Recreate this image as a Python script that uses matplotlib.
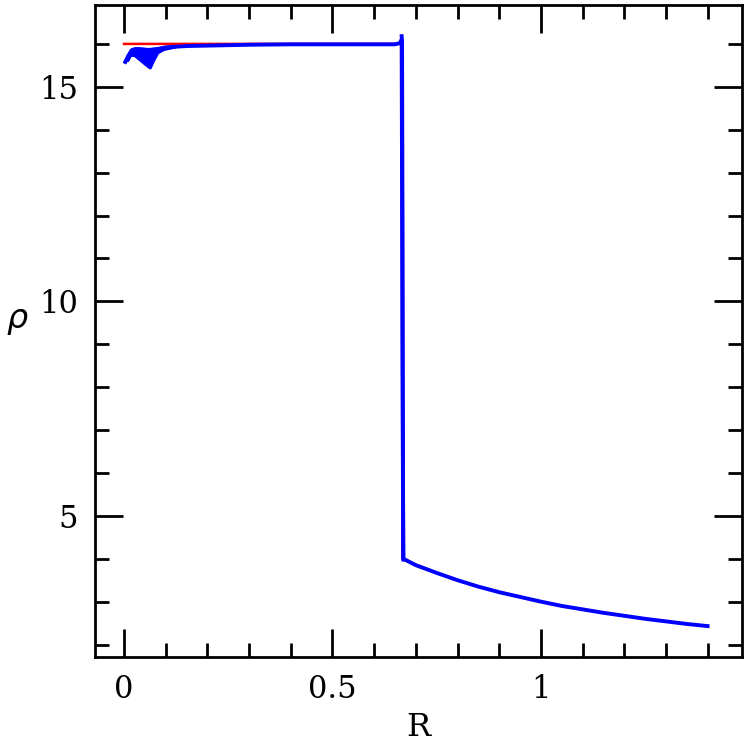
import matplotlib
matplotlib.use('Agg')
import matplotlib.pyplot as plt
from matplotlib.ticker import MultipleLocator, FixedLocator

# solucion exacta (rojo)
r_exacta = [0.0, 0.665, 0.667, 0.668, 0.70, 0.75, 0.80, 0.85, 0.90, 0.95, 1.00,
            1.05, 1.10, 1.15, 1.20, 1.25, 1.30, 1.35, 1.40]
rho_exacta = [16.0, 16.0, 16.0, 3.99, 3.86, 3.67, 3.50, 3.35, 3.22, 3.11, 3.00,
              2.90, 2.82, 2.74, 2.67, 2.60, 2.54, 2.48, 2.43]

# simulacion (azul)
r_sim = [0.003, 0.010, 0.020, 0.030, 0.045, 0.060, 0.080, 0.100, 0.150, 0.200,
         0.300, 0.400, 0.500, 0.600, 0.650, 0.662, 0.666, 0.668, 0.670, 0.680,
         0.700, 0.750, 0.800, 0.850, 0.900, 0.950, 1.000, 1.050, 1.100, 1.150,
         1.200, 1.250, 1.300, 1.350, 1.400]
rho_sim = [15.58, 15.72, 15.86, 15.88, 15.87, 15.86, 15.88, 15.92, 15.95, 15.96,
           15.98, 15.99, 15.99, 15.99, 15.99, 16.02, 16.10, 9.0, 4.00, 3.95,
           3.85, 3.67, 3.50, 3.35, 3.22, 3.11, 3.00, 2.90, 2.82, 2.74,
           2.67, 2.60, 2.54, 2.48, 2.43]

# zona con dispersion cerca del origen
r_banda = [0.008, 0.015, 0.025, 0.035, 0.045, 0.055, 0.062, 0.070, 0.080, 0.095, 0.120]
rho_banda_sup = [15.72, 15.86, 15.90, 15.90, 15.89, 15.88, 15.88, 15.89, 15.90, 15.92, 15.94]
rho_banda_inf = [15.62, 15.74, 15.74, 15.66, 15.58, 15.50, 15.45, 15.62, 15.80, 15.88, 15.93]

r_salto = [0.666, 0.667, 0.668, 0.669, 0.670]
rho_salto = [16.18, 16.05, 12.0, 6.0, 3.98]

plt.rcParams['font.family'] = ['DejaVu Serif']
fig = plt.figure(figsize=(7.47, 7.47), dpi=100)
ax = fig.add_axes([0.127, 0.1205, 0.866, 0.873])

ax.fill_between(r_banda, rho_banda_inf, rho_banda_sup, color='blue', lw=2, zorder=2)
ax.plot(r_banda, rho_banda_inf, color='blue', lw=2.2, zorder=2)
ax.plot(r_sim, rho_sim, color='blue', lw=2.8, zorder=2)
ax.plot(r_salto, rho_salto, color='blue', lw=2.8, zorder=2)
ax.plot(r_exacta, rho_exacta, color='red', lw=1.8, zorder=1)

ax.set_xlim(-0.07, 1.482)
ax.set_ylim(1.71, 16.91)

ax.xaxis.set_major_locator(FixedLocator([0, 0.5, 1]))
ax.xaxis.set_minor_locator(MultipleLocator(0.1))
ax.yaxis.set_major_locator(FixedLocator([5, 10, 15]))
ax.yaxis.set_minor_locator(MultipleLocator(1))
ax.set_xticklabels(['0', '0.5', '1'])
ax.set_yticklabels(['5', '10', '15'])

ax.tick_params(which='both', direction='in', top=True, right=True,
               width=2, labelsize=22, colors='black')
ax.tick_params(which='major', length=20, pad=12)
ax.tick_params(which='minor', length=10)
for s in ax.spines.values():
    s.set_linewidth(2)

ax.set_xlabel('R', fontsize=23)
ax.xaxis.set_label_coords(0.5, -0.085)
ax.set_ylabel(r'$\rho$', fontsize=24, rotation=0)
ax.yaxis.set_label_coords(-0.12, 0.49)

fig.savefig('out.png', dpi=100)
